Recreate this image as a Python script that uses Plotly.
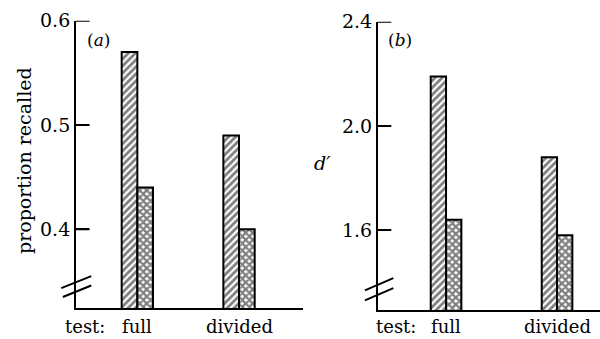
import plotly.graph_objects as go

# ---- data ----
categories = ["full", "divided"]
recall_hatched = [0.57, 0.49]
recall_cross = [0.44, 0.40]
dprime_hatched = [2.19, 1.88]
dprime_cross = [1.64, 1.58]
recall_ticks = [0.4, 0.5, 0.6]
dprime_ticks = [1.6, 2.0, 2.4]

FONT = "DejaVu Serif"
BLACK = "black"

fig = go.Figure()

def add_pair(hatched, cross, xa, ya, w):
    fig.add_trace(go.Bar(
        x=categories, y=hatched, xaxis=xa, yaxis=ya, width=w, offset=-w,
        marker=dict(color="white", line=dict(color=BLACK, width=2),
                    pattern=dict(shape="/", fgcolor=BLACK, bgcolor="white",
                                 size=5, solidity=0.55)),
        showlegend=False))
    fig.add_trace(go.Bar(
        x=categories, y=cross, xaxis=xa, yaxis=ya, width=w, offset=0,
        marker=dict(color="white", line=dict(color=BLACK, width=2),
                    pattern=dict(shape="x", fgcolor=BLACK, bgcolor="white",
                                 size=5, solidity=0.7)),
        showlegend=False))

add_pair(recall_hatched, recall_cross, "x", "y", 0.154)
add_pair(dprime_hatched, dprime_cross, "x2", "y2", 0.138)

xcommon = dict(showgrid=False, zeroline=False, showline=True, linecolor=BLACK,
               linewidth=2, ticks="", showticklabels=False, automargin=False)
ycommon = dict(showgrid=False, zeroline=False, showline=True, linecolor=BLACK,
               linewidth=2, ticks="inside", ticklen=13, tickwidth=2, automargin=False,
               tickcolor=BLACK, tickfont=dict(family=FONT, size=19, color=BLACK))

fig.update_layout(
    width=600, height=339,
    margin=dict(l=0, r=0, t=0, b=0, pad=0, autoexpand=False),
    paper_bgcolor="white", plot_bgcolor="white",
    barmode="overlay",
    xaxis=dict(domain=[0.1267, 0.505], range=[-0.603, 1.629], anchor="y", **xcommon),
    yaxis=dict(domain=[0.090, 0.939], range=[0.324, 0.6], anchor="x",
               tickvals=recall_ticks, ticktext=[f"{v:.1f}" for v in recall_ticks], **ycommon),
    xaxis2=dict(domain=[0.63, 1.0], range=[-0.613, 1.387], anchor="y2", **xcommon),
    yaxis2=dict(domain=[0.0847, 0.936], range=[1.292, 2.4], anchor="x2",
                tickvals=dprime_ticks, ticktext=[f"{v:.1f}" for v in dprime_ticks], **ycommon),
)

# tick marks drawn inside the axes (as in the original figure)
for xref, yref, ticks, frac in [("x domain", "y", recall_ticks, 0.06),
                                ("x2 domain", "y2", dprime_ticks, 0.06)]:
    for t in ticks:
        fig.add_shape(type="line", xref=xref, yref=yref, x0=0, x1=frac, y0=t, y1=t,
                      line=dict(color=BLACK, width=2))

# axis break marks
for (xref, yref, segs) in [
    ("x domain", "y", [(-0.065, 0.3435, 0.067, 0.355), (-0.058, 0.335, 0.067, 0.346)]),
    ("x2 domain", "y2", [(-0.059, 1.3685, 0.069, 1.4157), (-0.059, 1.330, 0.069, 1.377)]),
]:
    for x0, y0, x1, y1 in segs:
        fig.add_shape(type="line", xref=xref, yref=yref, x0=x0, y0=y0, x1=x1, y1=y1,
                      line=dict(color=BLACK, width=2))

# category labels under the bars
label_y = 1 - 326 / 339
for xa in ["x", "x2"]:
    for c in categories:
        fig.add_annotation(text=c, x=c, y=label_y, xref=xa, yref="paper",
                           showarrow=False, xanchor="center", yanchor="middle",
                           font=dict(family=FONT, size=18, color=BLACK))

annots = [
    dict(text="proportion recalled", x=0.04, y=0.525, textangle=-90, size=19),
    dict(text="<i>d′</i>", x=0.537, y=0.52, textangle=0, size=19),
    dict(text="(<i>a</i>)", x=98.5 / 600, y=1 - 40 / 339, textangle=0, size=17),
    dict(text="(<i>b</i>)", x=399.5 / 600, y=1 - 40 / 339, textangle=0, size=17),
    dict(text="test:", x=85 / 600, y=label_y, textangle=0, size=18),
    dict(text="test:", x=396 / 600, y=label_y, textangle=0, size=18),
]
for a in annots:
    fig.add_annotation(text=a["text"], x=a["x"], y=a["y"], xref="paper", yref="paper",
                       showarrow=False, textangle=a["textangle"],
                       xanchor="center", yanchor="middle",
                       font=dict(family=FONT, size=a["size"], color=BLACK))

fig.write_html("out.html", config={"displayModeBar": False},
               post_script="document.body.style.margin='0';document.body.style.overflow='hidden';")
